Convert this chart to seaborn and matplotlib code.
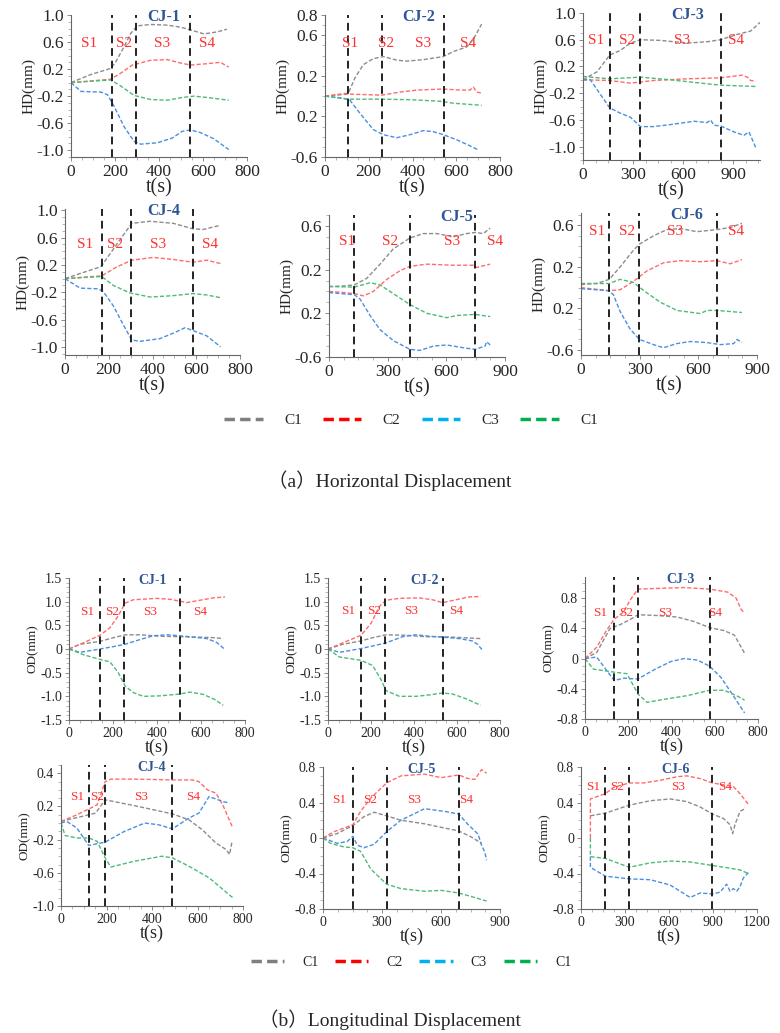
import matplotlib
matplotlib.use("Agg")
import matplotlib.pyplot as plt
import seaborn as sns
import pandas as pd
from matplotlib.lines import Line2D
from matplotlib.ticker import AutoMinorLocator, MultipleLocator

sns.set_theme(style="ticks")
plt.rcParams['font.family'] = ['Liberation Serif', 'Noto Sans CJK SC']

# ---- (a) horizontal displacement, HD(mm) vs t(s) ----
hd1_c1 = [(0, 0), (90, 0.12), (181, 0.21), (204, 0.31), (241, 0.53), (272, 0.73), (302, 0.84), (362, 0.86),
          (438, 0.85), (498, 0.82), (543, 0.78), (604, 0.72), (664, 0.75), (709, 0.79)]
hd1_c2 = [(0, 0), (181, 0.05), (226, 0.14), (279, 0.26), (362, 0.33), (438, 0.34), (498, 0.29), (543, 0.26),
          (619, 0.28), (679, 0.30), (717, 0.23)]
hd1_c3 = [(0, 0), (45, -0.13), (136, -0.14), (166, -0.18), (196, -0.35), (241, -0.65), (287, -0.87), (317, -0.91),
          (392, -0.89), (460, -0.82), (506, -0.72), (543, -0.70), (589, -0.74), (649, -0.83), (717, -0.99)]
hd1_c4 = [(0, 0), (181, 0.04), (226, -0.05), (287, -0.19), (362, -0.25), (438, -0.26), (506, -0.22), (559, -0.20),
          (619, -0.22), (717, -0.26)]

hd2_c1 = [(0, 0), (107, 0.03), (137, 0.18), (175, 0.31), (221, 0.37), (267, 0.39), (328, 0.355), (373, 0.345),
          (450, 0.36), (541, 0.39), (587, 0.44), (648, 0.485), (678, 0.56), (716, 0.71)]
hd2_c2 = [(0, 0), (107, 0.02), (259, 0.01), (343, 0.04), (419, 0.06), (541, 0.07), (617, 0.06), (663, 0.06),
          (678, 0.09), (693, 0.04), (716, 0.03)]
hd2_c3 = [(0, 0), (84, -0.02), (114, -0.04), (160, -0.17), (221, -0.33), (267, -0.38), (328, -0.41), (389, -0.38),
          (450, -0.34), (495, -0.35), (541, -0.38), (602, -0.43), (663, -0.49), (701, -0.53)]
hd2_c4 = [(0, 0), (107, -0.03), (259, -0.03), (389, -0.035), (526, -0.05), (587, -0.07), (716, -0.09)]

hd3_c1 = [(0, 0), (84, 0.12), (160, 0.37), (224, 0.44), (284, 0.55), (344, 0.60), (464, 0.59), (624, 0.55),
          (744, 0.57), (824, 0.60), (924, 0.68), (1004, 0.73), (1060, 0.86)]
hd3_c2 = [(0, 0), (160, -0.01), (284, -0.05), (424, -0.01), (624, 0.015), (824, 0.03), (954, 0.07), (984, 0.04),
          (1004, -0.01), (1034, -0.02)]
hd3_c3 = [(0, 0), (44, 0.0), (160, -0.42), (224, -0.50), (284, -0.56), (344, -0.70), (424, -0.70), (524, -0.67),
          (664, -0.62), (744, -0.64), (764, -0.60), (784, -0.68), (824, -0.69), (904, -0.78), (964, -0.83),
          (994, -0.78), (1034, -1.01)]
hd3_c4 = [(0, 0.05), (160, 0.015), (344, 0.04), (524, 0.0), (744, -0.06), (824, -0.08), (1034, -0.10)]

hd4_c1 = [(0, 0), (84, 0.09), (160, 0.17), (168, 0.19), (236, 0.50), (305, 0.81), (389, 0.84), (495, 0.81),
          (584, 0.73), (632, 0.72), (709, 0.78)]
hd4_c2 = [(0, 0), (168, 0.04), (236, 0.17), (305, 0.27), (404, 0.31), (495, 0.28), (584, 0.24), (648, 0.27),
          (711, 0.22)]
hd4_c3 = [(0, 0), (69, -0.14), (152, -0.15), (175, -0.19), (221, -0.40), (267, -0.68), (305, -0.90), (343, -0.92),
          (434, -0.88), (495, -0.80), (549, -0.72), (584, -0.76), (648, -0.84), (711, -1.0)]
hd4_c4 = [(0, 0), (168, 0.03), (221, -0.10), (297, -0.21), (389, -0.27), (495, -0.25), (584, -0.22), (648, -0.24),
          (711, -0.28)]

hd5_c1 = [(0, 0.045), (73, 0.05), (130, 0.06), (193, 0.12), (261, 0.25), (329, 0.39), (414, 0.49), (482, 0.53),
          (551, 0.53), (636, 0.50), (704, 0.53), (747, 0.54), (789, 0.53), (824, 0.58)]
hd5_c2 = [(0, 0), (73, -0.01), (130, -0.02), (176, -0.04), (227, 0.0), (295, 0.11), (363, 0.19), (414, 0.23),
          (500, 0.25), (636, 0.24), (738, 0.24), (755, 0.22), (824, 0.25)]
hd5_c3 = [(0, -0.01), (130, -0.03), (159, -0.07), (210, -0.22), (261, -0.35), (329, -0.45), (414, -0.53),
          (465, -0.54), (534, -0.50), (602, -0.49), (704, -0.52), (747, -0.53), (798, -0.50), (806, -0.46),
          (824, -0.49)]
hd5_c4 = [(0, 0.045), (130, 0.04), (210, 0.08), (261, 0.06), (329, -0.02), (414, -0.12), (500, -0.20), (602, -0.24),
          (653, -0.22), (747, -0.21), (824, -0.23)]

hd6_c1 = [(0, 0.03), (80, 0.04), (145, 0.08), (200, 0.20), (268, 0.36), (299, 0.42), (371, 0.50), (439, 0.56),
          (507, 0.57), (593, 0.54), (695, 0.56), (763, 0.58), (823, 0.62)]
hd6_c2 = [(0, 0), (145, -0.03), (200, -0.02), (268, 0.06), (336, 0.16), (422, 0.24), (507, 0.26), (610, 0.25),
          (695, 0.26), (763, 0.23), (823, 0.27)]
hd6_c3 = [(0, -0.01), (145, -0.03), (166, -0.07), (200, -0.23), (251, -0.40), (299, -0.50), (371, -0.55),
          (422, -0.58), (490, -0.54), (559, -0.52), (644, -0.53), (712, -0.55), (781, -0.54), (798, -0.50),
          (823, -0.53)]
hd6_c4 = [(0, 0.04), (145, 0.04), (200, 0.08), (268, 0.05), (336, -0.05), (405, -0.14), (490, -0.22), (610, -0.25),
          (644, -0.22), (695, -0.22), (823, -0.24)]

# ---- (b) longitudinal displacement, OD(mm) vs t(s) ----
od1_c1 = [(0, 0), (50, 0.10), (141, 0.16), (186, 0.22), (255, 0.30), (323, 0.30), (414, 0.27), (505, 0.26),
          (595, 0.25), (656, 0.24), (701, 0.22)]
od1_c2 = [(0, 0), (65, 0.13), (141, 0.29), (186, 0.45), (224, 0.70), (255, 0.97), (292, 1.04), (398, 1.07),
          (459, 1.05), (505, 1.01), (535, 0.98), (595, 1.03), (656, 1.08), (709, 1.10)]
od1_c3 = [(0, 0), (50, -0.07), (141, 0.0), (201, 0.05), (255, 0.10), (323, 0.20), (383, 0.28), (444, 0.30),
          (505, 0.28), (565, 0.25), (626, 0.22), (671, 0.14), (709, -0.01)]
od1_c4 = [(0, 0), (65, -0.12), (141, -0.22), (186, -0.27), (224, -0.50), (255, -0.78), (292, -0.92), (338, -1.0),
          (414, -0.99), (505, -0.95), (550, -0.91), (611, -0.96), (664, -1.07), (701, -1.19)]

od2_c1 = [(0, 0), (69, 0.10), (154, 0.17), (208, 0.24), (270, 0.30), (363, 0.29), (455, 0.26), (533, 0.26),
          (625, 0.24), (710, 0.22)]
od2_c2 = [(0, 0), (69, 0.13), (154, 0.29), (201, 0.55), (239, 0.90), (270, 1.03), (332, 1.07), (425, 1.08),
          (486, 1.04), (533, 0.98), (594, 1.04), (656, 1.10), (710, 1.11)]
od2_c3 = [(0, 0), (54, -0.07), (154, 0.01), (224, 0.08), (270, 0.13), (347, 0.26), (409, 0.30), (471, 0.27),
          (533, 0.25), (610, 0.22), (672, 0.17), (695, 0.10), (718, -0.02)]
od2_c4 = [(0, 0), (54, -0.17), (154, -0.24), (208, -0.35), (247, -0.65), (270, -0.88), (332, -1.0), (409, -1.0),
          (471, -0.97), (533, -0.93), (579, -0.95), (641, -1.05), (710, -1.19)]

od3_c1 = [(0, 0), (54, 0.08), (116, 0.40), (163, 0.45), (210, 0.52), (245, 0.58), (334, 0.57), (427, 0.55),
          (505, 0.49), (576, 0.41), (644, 0.37), (691, 0.31), (738, 0.07)]
od3_c2 = [(0, 0), (54, 0.15), (101, 0.38), (135, 0.52), (179, 0.62), (210, 0.78), (245, 0.92), (349, 0.93),
          (458, 0.94), (576, 0.92), (660, 0.88), (699, 0.80), (722, 0.65), (738, 0.60)]
od3_c3 = [(0, 0), (54, 0.02), (101, -0.16), (135, -0.29), (179, -0.26), (245, -0.27), (318, -0.15), (396, -0.04),
          (458, 0.0), (520, -0.02), (576, -0.10), (629, -0.25), (676, -0.45), (738, -0.72)]
od3_c4 = [(0, 0), (39, -0.14), (135, -0.18), (194, -0.20), (245, -0.47), (287, -0.58), (365, -0.54), (474, -0.49),
          (576, -0.42), (644, -0.42), (707, -0.50), (738, -0.55)]

od4_c1 = [(0, 0.02), (122, 0.10), (152, 0.12), (194, 0.28), (323, 0.21), (490, 0.11), (562, 0.04), (621, -0.08),
          (681, -0.24), (726, -0.32), (741, -0.38), (752, -0.22)]
od4_c2 = [(0, 0.02), (70, 0.10), (122, 0.17), (159, 0.22), (194, 0.50), (219, 0.53), (323, 0.53), (490, 0.52),
          (577, 0.52), (606, 0.50), (644, 0.40), (681, 0.36), (711, 0.22), (752, -0.04)]
od4_c3 = [(0, 0.0), (25, 0.02), (70, -0.06), (122, -0.27), (194, -0.23), (279, -0.10), (368, 0.0), (428, -0.02),
          (490, -0.07), (562, 0.06), (606, 0.12), (651, 0.32), (711, 0.26), (741, 0.24)]
od4_c4 = [(0, 0.0), (18, -0.15), (70, -0.18), (122, -0.18), (159, -0.22), (194, -0.42), (219, -0.53), (323, -0.46),
          (443, -0.40), (490, -0.42), (562, -0.52), (651, -0.66), (755, -0.90)]

od5_c1 = [(0, 0.0), (72, 0.05), (152, 0.14), (208, 0.24), (260, 0.29), (323, 0.25), (396, 0.20), (516, 0.16),
          (601, 0.12), (690, 0.08), (755, 0.01), (806, -0.06)]
od5_c2 = [(0, 0.0), (55, 0.07), (152, 0.15), (191, 0.30), (243, 0.45), (323, 0.62), (396, 0.70), (516, 0.72),
          (601, 0.68), (690, 0.71), (738, 0.67), (772, 0.66), (806, 0.77), (832, 0.73)]
od5_c3 = [(0, 0.0), (72, -0.06), (123, -0.04), (152, 0.02), (174, -0.08), (208, -0.11), (260, -0.07), (323, 0.07),
          (396, 0.20), (516, 0.33), (618, 0.30), (690, 0.27), (738, 0.15), (772, 0.08), (789, 0.04), (806, -0.08),
          (823, -0.16), (832, -0.25)]
od5_c4 = [(0, 0.0), (38, -0.06), (106, -0.10), (152, -0.11), (191, -0.15), (243, -0.35), (323, -0.52), (396, -0.57),
          (516, -0.60), (601, -0.59), (690, -0.62), (755, -0.66), (832, -0.71)]

od6_c1 = [(64, 0.25), (166, 0.28), (329, 0.37), (472, 0.42), (608, 0.44), (721, 0.41), (812, 0.35), (896, 0.27),
          (971, 0.22), (1016, 0.15), (1034, 0.05), (1050, 0.15), (1061, 0.20), (1073, 0.25), (1084, 0.30),
          (1107, 0.32), (1118, 0.35)]
od6_c2 = [(64, 0.0), (64, 0.44), (166, 0.50), (222, 0.57), (329, 0.62), (426, 0.62), (540, 0.65), (653, 0.69),
          (721, 0.70), (812, 0.67), (896, 0.62), (971, 0.60), (1039, 0.58), (1084, 0.50), (1141, 0.38)]
od6_c3 = [(64, -0.21), (64, -0.33), (166, -0.43), (329, -0.46), (472, -0.47), (608, -0.53), (744, -0.67),
          (812, -0.62), (896, -0.63), (948, -0.61), (993, -0.52), (1016, -0.60), (1039, -0.57), (1061, -0.60),
          (1084, -0.55), (1107, -0.45), (1141, -0.39)]
od6_c4 = [(64, 0.0), (64, -0.21), (166, -0.23), (329, -0.33), (472, -0.28), (608, -0.26), (744, -0.27), (896, -0.31),
          (1016, -0.34), (1084, -0.36), (1141, -0.40)]

# stage boundaries (s)
hd_stages = [[185, 295, 540], [107, 259, 545], [160, 344, 824], [168, 302, 584], [130, 414, 746], [145, 299, 695]]
od_stages = [[141, 251, 505], [154, 267, 533], [135, 245, 576], [122, 194, 490], [152, 323, 690], [166, 329, 896]]

# y tick values and their printed labels (as they appear in the figure)
hd_yticks = [[1.0, 0.6, 0.2, -0.2, -0.6, -1.0], [0.8, 0.6, 0.2, -0.2, -0.6], [1.0, 0.6, 0.2, -0.2, -0.6, -1.0],
             [1.0, 0.6, 0.2, -0.2, -0.6, -1.0], [0.6, 0.2, -0.2, -0.6], [0.6, 0.2, -0.2, -0.6]]
hd_ylabels = [['1.0', '0.6', '0.2', '-0.2', '-0.6', '-1.0'], ['0.8', '0.6', '0.2', '0.2', '-0.6'],
              ['1.0', '0.6', '0.2', '-0.2', '-0.6', '-1.0'], ['1.0', '0.6', '0.2', '-0.2', '-0.6', '-1.0'],
              ['0.6', '0.2', '0.2', '-0.6'], ['0.6', '0.2', '0.2', '-0.6']]
od_yticks = [[1.5, 1.0, 0.5, 0, -0.5, -1.0, -1.5], [1.5, 1.0, 0.5, 0, -0.5, -1.0, -1.5], [0.8, 0.4, 0, -0.4, -0.8],
             [0.6, 0.2, -0.2, -0.6, -1.0], [0.8, 0.4, 0, -0.4, -0.8], [0.8, 0.4, 0, -0.4, -0.8]]
od_ylabels = [['1.5', '1.0', '0.5', '0', '-0.5', '-1.0', '-1.5'], ['1.5', '1.0', '0.5', '0', '-0.5', '-1.0', '-1.5'],
              ['0.8', '0.4', '0', '-0.4', '-0.8'], ['0.4', '0.2', '-0.2', '-0.6', '-1.0'],
              ['0.8', '0.4', '0', '-0.4', '-0.8'], ['0.8', '0.4', '0', '-0.4', '-0.8']]

titles = ['CJ-1', 'CJ-2', 'CJ-3', 'CJ-4', 'CJ-5', 'CJ-6']
series_names = ['C1', 'C2', 'C3', 'C1']
line_colors = ['#8c8c8c', '#ff6b6b', '#4a8fe0', '#4dbb78']
legend_colors = ['#7f7f7f', '#ff0000', '#00b0f0', '#00b050']

hd_data = [[hd1_c1, hd1_c2, hd1_c3, hd1_c4], [hd2_c1, hd2_c2, hd2_c3, hd2_c4], [hd3_c1, hd3_c2, hd3_c3, hd3_c4],
           [hd4_c1, hd4_c2, hd4_c3, hd4_c4], [hd5_c1, hd5_c2, hd5_c3, hd5_c4], [hd6_c1, hd6_c2, hd6_c3, hd6_c4]]
od_data = [[od1_c1, od1_c2, od1_c3, od1_c4], [od2_c1, od2_c2, od2_c3, od2_c4], [od3_c1, od3_c2, od3_c3, od3_c4],
           [od4_c1, od4_c2, od4_c3, od4_c4], [od5_c1, od5_c2, od5_c3, od5_c4], [od6_c1, od6_c2, od6_c3, od6_c4]]

# layout: pixel boxes (left, top, right, bottom), limits, label spots
W, H = 780, 1033
hd_boxes = [(71, 15, 247, 157), (325, 15, 500, 157), (583, 13, 760, 160),
            (65, 209, 240, 355), (329, 215, 505, 357), (581, 213, 757, 355)]
od_boxes = [(69, 578, 245, 720), (328, 578, 500, 720), (585, 577, 758, 719),
            (61, 765, 243, 906), (323, 767, 500, 909), (581, 767, 757, 909)]
hd_xlim = [800, 800, 1060, 800, 900, 900]
hd_xticks = [[0, 200, 400, 600, 800]] * 2 + [[0, 300, 600, 900]] + [[0, 200, 400, 600, 800]] + [[0, 300, 600, 900]] * 2
hd_ylim = [(-1.1, 1.0), (-0.6, 0.8), (-1.2, 1.0), (-1.12, 1.02), (-0.6, 0.7), (-0.65, 0.72)]
od_xlim = [800, 800, 800, 800, 900, 1200]
od_xticks = [[0, 200, 400, 600, 800]] * 4 + [[0, 300, 600, 900], [0, 300, 600, 900, 1200]]
od_ylim = [(-1.5, 1.5), (-1.5, 1.5), (-0.8, 1.08), (-1.0, 0.7), (-0.8, 0.8), (-0.8, 0.8)]

hd_s_x = [[83, 241, 415, 619], [114, 279, 450, 655], [80, 264, 594, 914], [91, 229, 427, 663],
          [94, 312, 627, 849], [84, 234, 482, 794]]
hd_s_y = [0.80, 0.80, 0.81, 0.76, 0.81, 0.87]
hd_t_x = [423, 427, 624, 449, 653, 541]
od_s_x = [[83, 198, 368, 595], [93, 213, 386, 594], [70, 191, 368, 601], [70, 159, 353, 580],
          [80, 239, 465, 729], [86, 245, 665, 982]]
od_s_y = [0.76, 0.77, 0.75, 0.77, 0.77, 0.86]
od_t_x = [380, 448, 440, 398, 499, 646]


def draw_panel(fig, box, series, stages, xmax, xticks, ylim, yticks, ylabels, ylab,
               title, t_x, s_x, s_y, fs):
    tick_fs, s_fs, title_fs, lab_fs, xlab_fs = fs
    l, t, r, b = box
    ax = fig.add_axes([l / W, 1 - b / H, (r - l) / W, (b - t) / H])
    for pts, col in zip(series, line_colors):
        df = pd.DataFrame(pts, columns=['t', 'v'])
        sns.lineplot(data=df, x='t', y='v', ax=ax, color=col, lw=1.0, sort=False,
                     estimator=None, linestyle=(0, (3, 1.5)))
    for s in stages:
        ax.axvline(s, color='#222222', lw=1.4, ls=(0, (4, 2.5)))
    ax.set_xlim(0, xmax)
    ax.set_ylim(*ylim)
    ax.set_xticks(xticks)
    ax.set_yticks(yticks)
    ax.set_yticklabels(ylabels)
    ax.xaxis.set_minor_locator(AutoMinorLocator(4))
    ax.yaxis.set_minor_locator(MultipleLocator(0.1))
    ax.tick_params(which='major', labelsize=tick_fs, length=3, width=0.6, color='#777777', pad=2)
    ax.tick_params(which='minor', length=2, width=0.5, color='#999999')
    ax.set_xlabel('t(s)', fontsize=xlab_fs, labelpad=-1)
    ax.set_ylabel(ylab, fontsize=lab_fs, labelpad=1)
    for sp in ['top', 'right']:
        ax.spines[sp].set_visible(False)
    for sp in ['left', 'bottom']:
        ax.spines[sp].set_color('#666666')
        ax.spines[sp].set_linewidth(0.8)
    tr = ax.get_xaxis_transform()
    for i, sx in enumerate(s_x):
        ax.text(sx, s_y, 'S%d' % (i + 1), transform=tr, color='#ff3030', fontsize=s_fs,
                ha='center', va='center')
    ax.text(t_x, 0.985, title, transform=tr, color='#2e5597', fontsize=title_fs, fontweight='bold',
            ha='center', va='center')
    return ax


fig = plt.figure(figsize=(W / 100, H / 100), dpi=100)

for i in range(6):
    draw_panel(fig, hd_boxes[i], hd_data[i], hd_stages[i], hd_xlim[i], hd_xticks[i], hd_ylim[i],
               hd_yticks[i], hd_ylabels[i], 'HD(mm)', titles[i], hd_t_x[i], hd_s_x[i], hd_s_y[i],
               (12.5, 11, 11.5, 11, 14.5))
    draw_panel(fig, od_boxes[i], od_data[i], od_stages[i], od_xlim[i], od_xticks[i], od_ylim[i],
               od_yticks[i], od_ylabels[i], 'OD(mm)', titles[i], od_t_x[i], od_s_x[i], od_s_y[i],
               (10, 9.5, 10, 9.5, 13))

handles = [Line2D([], [], color=c, lw=2.5, ls=(0, (3, 1.5))) for c in legend_colors]
fig.legend(handles, series_names, loc='center', bbox_to_anchor=(0.527, 1 - 420 / H), ncol=4,
           frameon=False, fontsize=11, handlelength=2.5, columnspacing=1.4, handletextpad=1.4)
fig.legend(handles, series_names, loc='center', bbox_to_anchor=(0.527, 1 - 962 / H), ncol=4,
           frameon=False, fontsize=10, handlelength=2.4, columnspacing=1.2, handletextpad=1.3)

fig.text(0.5, 1 - 481 / H, '（a）Horizontal Displacement', ha='center', va='center', fontsize=14)
fig.text(0.5, 1 - 1020 / H, '（b）Longitudinal Displacement', ha='center', va='center', fontsize=14)

fig.savefig('out.png', dpi=100)
